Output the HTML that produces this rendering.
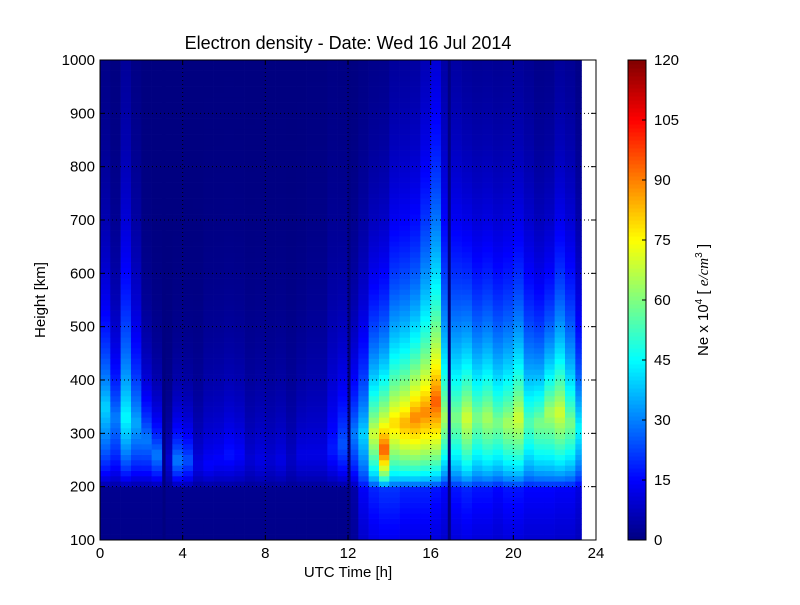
<!DOCTYPE html>
<html><head><meta charset="utf-8"><style>
body{margin:0;background:#fff;font-family:"Liberation Sans",sans-serif}
svg text{font-family:"Liberation Sans","DejaVu Sans",sans-serif}
</style></head><body>
<svg id="c" width="800" height="600" xmlns="http://www.w3.org/2000/svg">
<rect width="800" height="600" fill="#fff"/>
<g id="cells"></g>
<g id="grid"></g>
<rect x="100" y="60" width="496" height="480" fill="none" stroke="#000" stroke-width="1"/>
<g id="axes"></g>
<text x="348" y="49" font-size="18" text-anchor="middle">Electron density - Date: Wed 16 Jul 2014</text>
<text x="348" y="577" font-size="15" text-anchor="middle">UTC Time [h]</text>
<text x="45" y="300" font-size="15" text-anchor="middle" transform="rotate(-90 45 300)">Height [km]</text>
<g id="cbar"></g>
<text x="708" y="300" font-size="15" text-anchor="middle" transform="rotate(-90 708 300)">Ne x 10<tspan font-size="10" dy="-6">4</tspan><tspan dy="6">  [ </tspan><tspan font-style="italic" font-family="Liberation Serif">e/cm</tspan><tspan font-size="10" dy="-6">3</tspan><tspan dy="6"> ]</tspan></text>
</svg>
<script>
const times=[0,0.5,1,1.5,2,2.5,3,3.5,4,4.5,5,5.5,6,6.5,7,7.5,8,8.5,9,9.5,10,10.5,11,11.5,12,12.5,13,13.5,14,14.5,15,15.5,16,16.5,17,17.5,18,18.5,19,19.5,20,20.5,21,21.5,22,22.5,23];
const peakNe=[40,30,45,35,30,30,10,30,25,12,15,15,17,15,10,12,10,12,8,12,12,12,18,25,30,40,70,95,80,85,90,90,95,65,60,70,60,65,60,65,70,55,60,65,70,60,45];
const peakH=[350,330,330,320,290,260,250,250,250,240,240,250,260,260,250,250,250,250,250,260,260,260,270,280,300,300,300,270,320,320,330,340,360,330,330,330,330,330,320,320,330,320,320,340,340,320,310];
const topScale=[250,200,350,250,150,120,100,120,120,150,200,200,200,200,200,200,200,200,200,200,250,250,300,250,200,250,250,250,300,300,300,350,400,350,350,300,300,300,300,300,300,300,250,250,300,300,250];
const bottomNe=[2,2,2,2,2,2,2,2,2,2,2,2,2,2,2,2,2,2,2,2,2,2,2,2,5,15,20,22,22,20,20,20,18,15,18,20,18,18,16,18,18,16,16,16,15,15,12];
const gapTimes=[3.1,12.05,16.9];
const dataEnd=23.3;
const cbTicks=[0,15,30,45,60,75,90,105,120];
const xTicks=[0,4,8,12,16,20,24];
const yTicks=[100,200,300,400,500,600,700,800,900,1000];
const NS="http://www.w3.org/2000/svg";
const X=t=>100+t/24*496, Y=h=>540-(h-100)/900*480, CY=v=>540-v/120*480;
function jet(v){let x=Math.max(0,Math.min(1,v/120));
 const f=(a)=>Math.max(0,Math.min(1,1.5-Math.abs(4*x-a)));
 return `rgb(${Math.round(255*f(3))},${Math.round(255*f(2))},${Math.round(255*f(1))})`;}
function el(tag,attrs,parent){const e=document.createElementNS(NS,tag);for(const k in attrs)e.setAttribute(k,attrs[k]);parent.appendChild(e);return e;}
function profile(i,hc){
 const P=Number(peakNe[i]),H=Number(peakH[i]),S=Number(topScale[i]),B=Number(bottomNe[i]);
 if(hc>=H) return P*Math.exp(-1.4*(hc-H)/S);
 const base=200;
 let fl=hc<210?B*(0.6+0.4*(hc-100)/110):B;
 if(hc<=base) return fl;
 const r=Math.min(1,(hc-base)/Math.max(20,H-base));
 return Math.max(fl, fl+(P-fl)*Math.pow(r,0.6));
}
const cells=document.getElementById('cells');
el('rect',{x:100,y:60,width:496,height:480,fill:'#fff'},cells);
for(let i=0;i<times.length;i++){
 const t0=times[i],t1=Math.min(times[i]+0.5,dataEnd);
 for(let h=100;h<1000;h+=10){
  const v=profile(i,h+5);
  const r=el('rect',{x:X(t0),y:Y(h+10),width:X(t1)-X(t0)+0.3,height:Y(h)-Y(h+10)+0.3,fill:jet(v)},cells);
  
  
 }
}
gapTimes.forEach(g=>{const r=el('rect',{x:X(g)-1.5,y:60,width:3,height:480,fill:jet(0)},cells);
 
 });
const grid=document.getElementById('grid'),axes=document.getElementById('axes');
xTicks.forEach(t=>{if(t>0&&t<24)el('line',{x1:X(t),x2:X(t),y1:60,y2:540,stroke:'#000','stroke-dasharray':'1,3','stroke-width':1},grid);
 el('line',{x1:X(t),x2:X(t),y1:540,y2:535,stroke:'#000'},axes);el('line',{x1:X(t),x2:X(t),y1:60,y2:65,stroke:'#000'},axes);
 const tx=el('text',{x:X(t),y:558,'font-size':15,'text-anchor':'middle'},axes);tx.textContent=t;
 
 });
yTicks.forEach(h=>{if(h>100&&h<1000)el('line',{x1:100,x2:596,y1:Y(h),y2:Y(h),stroke:'#000','stroke-dasharray':'1,3','stroke-width':1},grid);
 el('line',{x1:100,x2:105,y1:Y(h),y2:Y(h),stroke:'#000'},axes);el('line',{x1:591,x2:596,y1:Y(h),y2:Y(h),stroke:'#000'},axes);
 const tx=el('text',{x:95,y:Y(h)+5,'font-size':15,'text-anchor':'end'},axes);tx.textContent=h;
 
 });
const cb=document.getElementById('cbar');
for(let v=0;v<120;v+=1)el('rect',{x:628,y:CY(v+1),width:18,height:CY(v)-CY(v+1)+0.5,fill:jet(v+0.5)},cb);
el('rect',{x:628,y:60,width:18,height:480,fill:'none',stroke:'#000'},cb);
cbTicks.forEach(v=>{el('line',{x1:642,x2:646,y1:CY(v),y2:CY(v),stroke:'#000'},cb);
 const tx=el('text',{x:654,y:CY(v)+5,'font-size':15},cb);tx.textContent=v;
 
 });
</script>
</body></html>
